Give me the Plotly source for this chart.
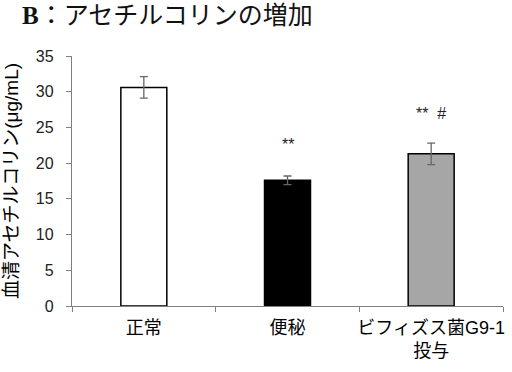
import plotly.graph_objects as go

categories = ["正常", "便秘", "ビフィズス菌G9-1<br>投与"]
values = [30.6, 17.6, 21.3]
errors = [1.5, 0.6, 1.5]
bar_colors = ["#ffffff", "#000000", "#a6a6a6"]
marks = ["", "**", "**  #"]
mark_y = [0, 22.6, 27.0]
y_ticks = [0, 5, 10, 15, 20, 25, 30, 35]

fig = go.Figure()
fig.add_trace(go.Bar(
    x=categories, y=values,
    marker=dict(color=bar_colors, line=dict(color="#000000", width=1.5)),
    error_y=dict(type="data", array=errors, visible=True, color="#666666", thickness=1.3, width=4),
    showlegend=False,
))

for c, m, yv in zip(categories, marks, mark_y):
    if m:
        fig.add_annotation(x=c, y=yv, xref="x", yref="y", text=m, showarrow=False,
                           font=dict(family="Liberation Sans, Arial", size=16, color="#222222"))

fig.add_annotation(xref="paper", yref="paper", x=0, y=1.0, xanchor="left", yanchor="middle",
                   xshift=-52, yshift=41, showarrow=False,
                   text="<b>B</b>：アセチルコリンの増加",
                   font=dict(family="Liberation Serif, Noto Sans CJK JP", size=25, color="#111111"))

fig.update_layout(
    width=512, height=372,
    margin=dict(l=72, r=9, t=56, b=66),
    paper_bgcolor="white", plot_bgcolor="white",
    bargap=0.68,
    font=dict(family="Liberation Sans, Noto Sans CJK JP", color="#000000"),
)
fig.update_xaxes(
    type="category", showline=True, linecolor="#808080", linewidth=1.3,
    ticks="outside", tickson="boundaries", ticklen=5, tickcolor="#808080",
    tickangle=0, ticklabelstandoff=5,
    tickfont=dict(family="Liberation Sans, Noto Sans CJK JP", size=18, color="#000000"),
    showgrid=False, automargin=False,
)
fig.update_yaxes(
    range=[0, 35], tickvals=y_ticks, showline=True, linecolor="#808080", linewidth=1.3,
    ticks="outside", ticklen=5, tickcolor="#808080", showgrid=False, zeroline=False,
    tickfont=dict(family="Liberation Sans, Arial", size=16, color="#222222"),
    ticklabelstandoff=9,
    automargin=False,
    title=dict(text="血清アセチルコリン(μg/mL)", standoff=12,
               font=dict(family="Liberation Sans, Noto Sans CJK JP", size=19, color="#000000")),
)

fig.write_html("out.html", config={"displayModeBar": False},
               post_script="document.body.style.margin='0';")
